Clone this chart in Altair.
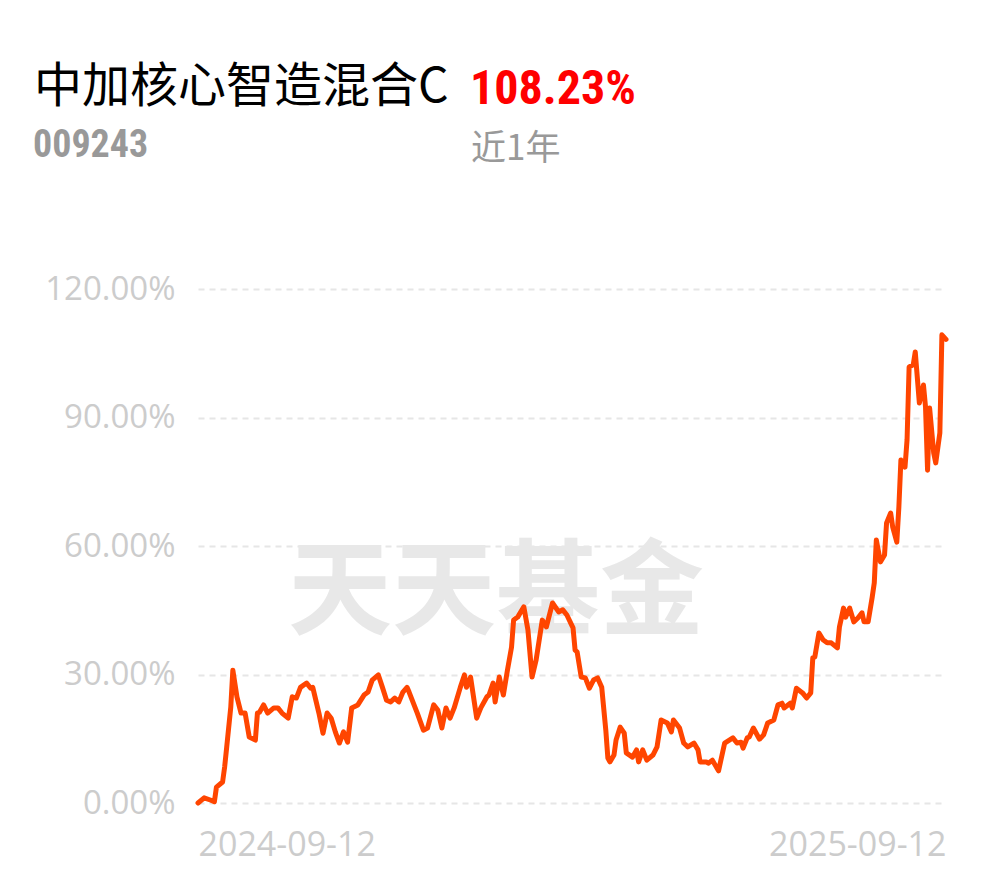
import altair as alt
import pandas as pd

dates = [
    "2024-09-12", "2024-09-15", "2024-09-18", "2024-09-20", "2024-09-21", "2024-09-24", "2024-09-25",
    "2024-09-26", "2024-09-28", "2024-09-29", "2024-10-01", "2024-10-03", "2024-10-05", "2024-10-07",
    "2024-10-10", "2024-10-11", "2024-10-12", "2024-10-14", "2024-10-16", "2024-10-19", "2024-10-21",
    "2024-10-23", "2024-10-26", "2024-10-28", "2024-10-30", "2024-11-01", "2024-11-04", "2024-11-06",
    "2024-11-07", "2024-11-10", "2024-11-12", "2024-11-14", "2024-11-16", "2024-11-18", "2024-11-20",
    "2024-11-22", "2024-11-24", "2024-11-26", "2024-11-29", "2024-12-02", "2024-12-04", "2024-12-06",
    "2024-12-09", "2024-12-11", "2024-12-13", "2024-12-15", "2024-12-17", "2024-12-19", "2024-12-21",
    "2024-12-23", "2024-12-24", "2024-12-28", "2024-12-31", "2025-01-02", "2025-01-05", "2025-01-07",
    "2025-01-09", "2025-01-11", "2025-01-13", "2025-01-15", "2025-01-18", "2025-01-20", "2025-01-21",
    "2025-01-23", "2025-01-26", "2025-01-28", "2025-01-31", "2025-02-01", "2025-02-03", "2025-02-04",
    "2025-02-06", "2025-02-08", "2025-02-10", "2025-02-12", "2025-02-13", "2025-02-15", "2025-02-18",
    "2025-02-20", "2025-02-22", "2025-02-24", "2025-02-27", "2025-03-01", "2025-03-04", "2025-03-07",
    "2025-03-09", "2025-03-11", "2025-03-14", "2025-03-15", "2025-03-16", "2025-03-18", "2025-03-20",
    "2025-03-22", "2025-03-24", "2025-03-26", "2025-03-28", "2025-03-30", "2025-03-31", "2025-04-01",
    "2025-04-03", "2025-04-04", "2025-04-06", "2025-04-08", "2025-04-09", "2025-04-12", "2025-04-14",
    "2025-04-15", "2025-04-17", "2025-04-19", "2025-04-22", "2025-04-24", "2025-04-26", "2025-04-29",
    "2025-05-01", "2025-05-02", "2025-05-05", "2025-05-07", "2025-05-09", "2025-05-12", "2025-05-14",
    "2025-05-15", "2025-05-18", "2025-05-19", "2025-05-21", "2025-05-24", "2025-05-27", "2025-05-31",
    "2025-06-02", "2025-06-04", "2025-06-05", "2025-06-07", "2025-06-08", "2025-06-10", "2025-06-13",
    "2025-06-15", "2025-06-17", "2025-06-20", "2025-06-22", "2025-06-24", "2025-06-25", "2025-06-28",
    "2025-06-29", "2025-07-01", "2025-07-04", "2025-07-06", "2025-07-08", "2025-07-09", "2025-07-10",
    "2025-07-12", "2025-07-14", "2025-07-16", "2025-07-18", "2025-07-21", "2025-07-22", "2025-07-24",
    "2025-07-25", "2025-07-27", "2025-07-29", "2025-07-31", "2025-08-02", "2025-08-03", "2025-08-05",
    "2025-08-07", "2025-08-08", "2025-08-09", "2025-08-11", "2025-08-13", "2025-08-14", "2025-08-16",
    "2025-08-17", "2025-08-19", "2025-08-20", "2025-08-21", "2025-08-23", "2025-08-24", "2025-08-25",
    "2025-08-27", "2025-08-28", "2025-08-30", "2025-09-01", "2025-09-02", "2025-09-03", "2025-09-04",
    "2025-09-06", "2025-09-07", "2025-09-09", "2025-09-10", "2025-09-12",
]

returns = [
    0.0, 1.2, 0.7, 0.3, 3.7, 4.9, 8.4,
    13.0, 22.4, 31.0, 24.8, 21.0, 21.0, 15.4,
    14.7, 21.0, 21.2, 22.9, 21.0, 22.2, 22.2,
    21.0, 19.8, 24.8, 24.5, 27.0, 28.0, 26.8,
    27.0, 21.0, 16.3, 21.0, 19.8, 16.6, 14.0,
    16.6, 14.2, 22.2, 22.9, 25.2, 25.9, 28.7,
    29.9, 27.0, 24.0, 23.6, 24.5, 23.6, 25.9,
    27.0, 25.9, 21.0, 17.0, 17.5, 22.9, 21.7,
    17.5, 22.2, 19.8, 22.2, 27.0, 29.9, 27.0,
    29.4, 19.8, 22.2, 24.8, 25.2, 28.0, 23.6,
    29.4, 25.2, 31.0, 36.4, 42.7, 43.4, 45.8,
    40.4, 29.4, 33.4, 42.7, 41.1, 46.7, 44.6,
    45.1, 43.9, 40.9, 35.7, 35.3, 29.4, 29.2,
    26.8, 28.7, 29.2, 27.0, 17.0, 10.5, 9.6,
    11.2, 14.7, 17.7, 16.3, 11.7, 10.7, 12.4,
    9.6, 12.4, 10.0, 11.2, 13.1, 19.4, 18.7,
    16.6, 19.4, 17.5, 14.0, 13.1, 14.0, 12.4,
    9.6, 9.6, 9.3, 10.0, 7.5, 14.0, 15.2,
    14.0, 14.2, 12.8, 15.2, 15.4, 17.5, 14.9,
    15.9, 18.7, 19.4, 22.9, 23.3, 22.2, 23.3,
    22.2, 26.8, 25.7, 24.5, 25.7, 33.9, 34.1,
    39.7, 38.1, 37.4, 37.4, 36.2, 41.1, 45.5,
    43.4, 45.5, 42.3, 43.2, 44.4, 42.3, 42.3,
    48.1, 51.4, 61.4, 56.3, 57.9, 65.4, 67.7,
    64.4, 60.9, 69.1, 80.1, 78.4, 84.8, 101.8,
    102.3, 105.3, 93.4, 97.6, 92.5, 77.7, 92.2,
    81.7, 79.4, 86.4, 109.3, 108.23,
]

y_ticks = [0, 30, 60, 90, 120]
fund_name = "中加核心智造混合C"
fund_code = "009243"
period_return = "108.23%"
period_label = "近1年"
watermark = "天天基金"

df = pd.DataFrame({"date": dates, "ret": returns})

W, H = 748, 514

start = alt.DateTime(year=2024, month=9, date=12, utc=True)
end = alt.DateTime(year=2025, month=9, date=12, utc=True)

base_axis_font = "Open Sans"

line = alt.Chart(df).mark_line(
    color="#FF4500", strokeWidth=5, strokeCap="round", strokeJoin="round"
).encode(
    x=alt.X(
        "date:T",
        scale=alt.Scale(type="utc", domain=[start, end]),
        axis=alt.Axis(
            values=[start, end],
            labelExpr="utcFormat(datum.value, '%Y-%m-%d')",
            labelFlush=True,
            grid=False, domain=False, ticks=False,
            labelFont=base_axis_font, labelFontSize=34, labelColor="#cccccc",
            labelPadding=25, title=None,
        ),
    ),
    y=alt.Y(
        "ret:Q",
        scale=alt.Scale(domain=[0, 120], nice=False, zero=True),
        axis=alt.Axis(
            values=y_ticks,
            labelExpr="format(datum.value, '.2f') + '%'",
            grid=True, gridColor="#e6e6e6", gridDash=[6, 5], gridWidth=2,
            domain=False, ticks=False,
            labelFont=base_axis_font, labelFontSize=33, labelColor="#cccccc",
            labelPadding=23, title=None,
        ),
    ),
)

def text_layer(txt, x, y, size, color, font, weight="normal", align="left", baseline="alphabetic"):
    return alt.Chart(pd.DataFrame({"t": [txt]})).mark_text(
        align=align, baseline=baseline, fontSize=size, color=color, font=font, fontWeight=weight
    ).encode(text="t:N", x=alt.value(x), y=alt.value(y))

wm = text_layer(watermark, 298, 307, 104, "#e8e8e8", "Noto Sans CJK SC", "bold", "center", "middle")
t_name = text_layer(fund_name, -164, -187, 48, "#000000", "Noto Sans CJK SC")
t_ret = text_layer(period_return, 272, -185, 48, "#ff0000", "Liberation Sans Narrow, Roboto Condensed, Roboto", "bold")
t_code = text_layer(fund_code, -165, -132, 38, "#999999", "Liberation Sans Narrow, Roboto Condensed, Roboto", "bold")
t_period = text_layer(period_label, 273, -129, 35, "#999999", "Noto Sans CJK SC")

chart = alt.layer(wm, line, t_name, t_ret, t_code, t_period).properties(
    width=W, height=H,
    autosize=alt.AutoSizeParams(type="none"),
    padding={"left": 190, "top": 281, "right": 36, "bottom": 62},
    background="white",
).configure_view(stroke=None)

chart.save("out.html", embed_options={"renderer": "svg", "actions": False})
